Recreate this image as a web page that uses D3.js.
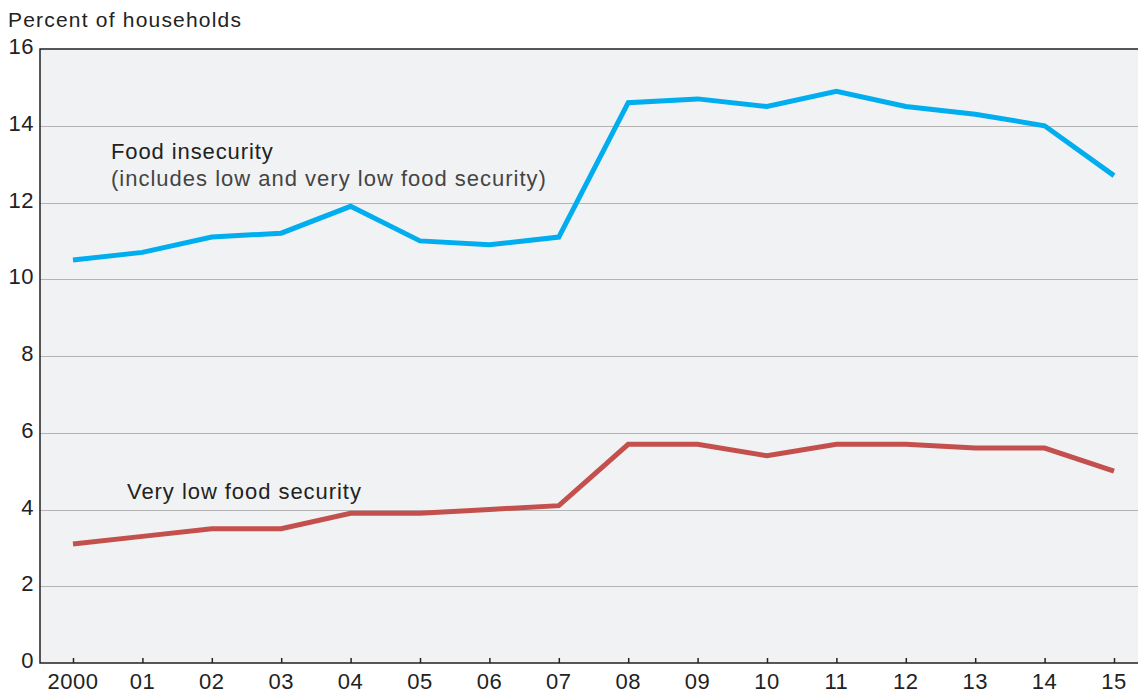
<!DOCTYPE html>
<html>
<head>
<meta charset="utf-8">
<script src="https://cdn.jsdelivr.net/npm/d3@7"></script>
<style>
  body { margin: 0; background: #fff; }
  text { font-family: "Liberation Sans", Arial, sans-serif; fill: #222; }
</style>
</head>
<body>
<div id="chart"></div>
<script>
const years = ['2000', '01', '02', '03', '04', '05', '06', '07', '08', '09', '10', '11', '12', '13', '14', '15']
const foodInsecurity = [10.5, 10.7, 11.1, 11.2, 11.9, 11.0, 10.9, 11.1, 14.6, 14.7, 14.5, 14.9, 14.5, 14.3, 14.0, 12.7]
const veryLowSecurity = [3.1, 3.3, 3.5, 3.5, 3.9, 3.9, 4.0, 4.1, 5.7, 5.7, 5.4, 5.7, 5.7, 5.6, 5.6, 5.0]
const yTicks = [0, 2, 4, 6, 8, 10, 12, 14, 16]

const canvasWidth = 1138
const canvasHeight = 694
const plot = {left: 40, top: 49, right: 1138, bottom: 663}

const svg = d3
  .select('#chart')
  .append('svg')
  .attr('width', canvasWidth)
  .attr('height', canvasHeight)

const xScale = d3
  .scalePoint()
  .domain(years)
  .range([73, 1114])

const yScale = d3
  .scaleLinear()
  .domain([0, 16])
  .range([plot.bottom, plot.top])

// panel background
svg
  .append('rect')
  .attr('x', plot.left)
  .attr('y', plot.top)
  .attr('width', plot.right - plot.left)
  .attr('height', plot.bottom - plot.top)
  .attr('fill', '#f1f2f4')

// gridlines
svg
  .append('g')
  .selectAll('line')
  .data(yTicks.filter(d => d > 0 && d < 16))
  .enter()
  .append('line')
  .attr('x1', plot.left)
  .attr('x2', plot.right)
  .attr('y1', d => Math.round(yScale(d)) + 0.5)
  .attr('y2', d => Math.round(yScale(d)) + 0.5)
  .attr('stroke', '#b4b4b4')
  .attr('stroke-width', 1.2)

// y tick labels
svg
  .append('g')
  .selectAll('text')
  .data(yTicks)
  .enter()
  .append('text')
  .attr('x', 34)
  .attr('y', d => yScale(d) + 5)
  .attr('text-anchor', 'end')
  .attr('font-size', '22px')
  .style('letter-spacing', '0.5px')
  .text(d => d)

// x axis with ticks pointing inward
const xAxis = d3.axisTop(xScale).tickSize(5).tickFormat('')
const xg = svg
  .append('g')
  .attr('transform', `translate(0, ${plot.bottom})`)
  .call(xAxis)
xg.select('.domain').remove()
xg.selectAll('line').attr('stroke', '#222').attr('stroke-width', 1.5)

svg
  .append('g')
  .selectAll('text')
  .data(years)
  .enter()
  .append('text')
  .attr('x', d => xScale(d))
  .attr('y', 689)
  .attr('text-anchor', 'middle')
  .attr('font-size', '22px')
  .style('letter-spacing', '0.5px')
  .text(d => d)

// frame: left, top, bottom
svg
  .append('path')
  .attr('d', `M${plot.right},${plot.top}H${plot.left}V${plot.bottom}H${plot.right}`)
  .attr('fill', 'none')
  .attr('stroke', '#222')
  .attr('stroke-width', 1.5)

const line = d3
  .line()
  .x((d, i) => xScale(years[i]))
  .y(d => yScale(d))

svg
  .append('path')
  .datum(foodInsecurity)
  .attr('d', line)
  .attr('fill', 'none')
  .attr('stroke', '#00aeef')
  .attr('stroke-width', 5)

svg
  .append('path')
  .datum(veryLowSecurity)
  .attr('d', line)
  .attr('fill', 'none')
  .attr('stroke', '#c4504d')
  .attr('stroke-width', 5)

// labels
svg
  .append('text')
  .attr('x', 8)
  .attr('y', 27)
  .attr('font-size', '21px')
  .style('letter-spacing', '1.2px')
  .text('Percent of households')

svg
  .append('text')
  .attr('x', 111)
  .attr('y', 159)
  .attr('font-size', '22px')
  .style('letter-spacing', '0.9px')
  .text('Food insecurity')

svg
  .append('text')
  .attr('x', 111)
  .attr('y', 186)
  .attr('font-size', '22px')
  .style('letter-spacing', '1px')
  .style('fill', '#444')
  .text('(includes low and very low food security)')

svg
  .append('text')
  .attr('x', 127)
  .attr('y', 499)
  .attr('font-size', '22px')
  .style('letter-spacing', '0.95px')
  .text('Very low food security')
</script>
</body>
</html>
